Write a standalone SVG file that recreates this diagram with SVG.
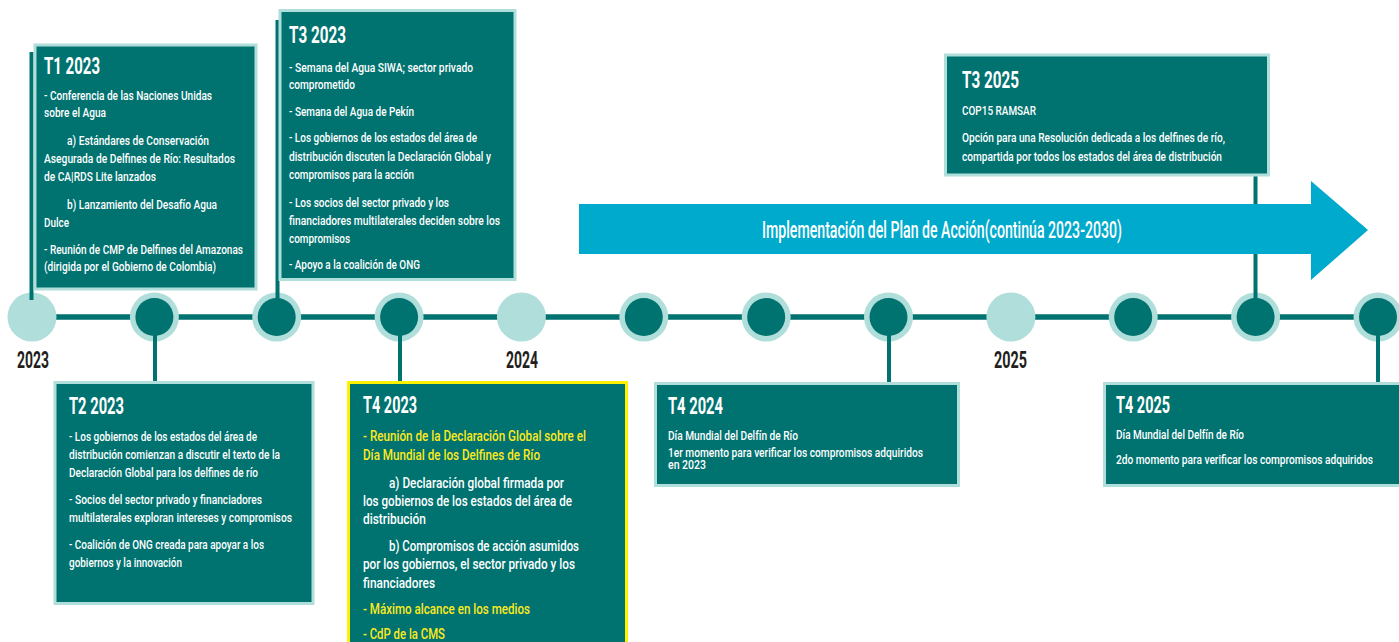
<svg xmlns="http://www.w3.org/2000/svg" width="1399" height="642" viewBox="0 0 1399 642">
<style>
.box{fill:#007270;stroke:#B0DEDA;stroke-width:3}
.boxy{fill:#007270;stroke:#FFF200;stroke-width:3}
.t{font-family:Roboto,"Liberation Sans",sans-serif;fill:#fff}
.ti{font-size:23px;font-weight:700}
.b{font-size:13.5px;font-weight:500}
.b14{font-size:15px;font-weight:500}
.s{font-size:12.5px;font-weight:500}
.y{fill:#FBEA1E}
.yr{font-family:Roboto,"Liberation Sans",sans-serif;font-size:23px;font-weight:700;fill:#231F20}
.ring{fill:#B0DEDA}
.dot{fill:#007270}
.con{stroke:#007270;stroke-width:4;fill:none}
</style>
<rect width="1399" height="642" fill="#fff"/>
<g id="timeline">
<line x1="32" y1="317" x2="1399" y2="317" stroke="#007270" stroke-width="5.5"/>
<circle class="ring" cx="32" cy="317" r="24.5"/>
<circle class="ring" cx="154.4" cy="317" r="24.5"/><circle class="dot" cx="154.4" cy="317" r="19"/>
<circle class="ring" cx="276.7" cy="317" r="24.5"/><circle class="dot" cx="276.7" cy="317" r="19"/>
<circle class="ring" cx="399.1" cy="317" r="24.5"/><circle class="dot" cx="399.1" cy="317" r="19"/>
<circle class="ring" cx="521.4" cy="317" r="24.5"/>
<circle class="ring" cx="643.8" cy="317" r="24.5"/><circle class="dot" cx="643.8" cy="317" r="19"/>
<circle class="ring" cx="766.2" cy="317" r="24.5"/><circle class="dot" cx="766.2" cy="317" r="19"/>
<circle class="ring" cx="888.5" cy="317" r="24.5"/><circle class="dot" cx="888.5" cy="317" r="19"/>
<circle class="ring" cx="1010.9" cy="317" r="24.5"/>
<circle class="ring" cx="1133.2" cy="317" r="24.5"/><circle class="dot" cx="1133.2" cy="317" r="19"/>
<circle class="ring" cx="1255.6" cy="317" r="24.5"/><circle class="dot" cx="1255.6" cy="317" r="19"/>
<circle class="ring" cx="1378" cy="317" r="24.5"/><circle class="dot" cx="1378" cy="317" r="19"/>
<text class="yr" x="17" y="368" textLength="32" lengthAdjust="spacingAndGlyphs">2023</text>
<text class="yr" x="506" y="368" textLength="32" lengthAdjust="spacingAndGlyphs">2024</text>
<text class="yr" x="994" y="368" textLength="33" lengthAdjust="spacingAndGlyphs">2025</text>
</g>
<g id="connectors">
<line class="con" x1="31.5" y1="52" x2="31.5" y2="300"/>
<line class="con" x1="277.5" y1="20" x2="277.5" y2="317"/>
<line class="con" x1="155" y1="317" x2="155" y2="382"/>
<line class="con" x1="400" y1="317" x2="400" y2="382"/>
<line class="con" x1="889" y1="317" x2="889" y2="383"/>
<line class="con" x1="1255.5" y1="176" x2="1255.5" y2="317"/>
<line class="con" x1="1378" y1="317" x2="1378" y2="383"/>
</g>
<g id="t1-2023">
<rect class="box" x="35" y="45" width="221" height="244"/>
<text class="t ti" x="44" y="74" textLength="56" lengthAdjust="spacingAndGlyphs">T1 2023</text>
<g class="t b">
<text x="44" y="100" textLength="168" lengthAdjust="spacingAndGlyphs">- Conferencia de las Naciones Unidas</text>
<text x="44" y="117" textLength="62" lengthAdjust="spacingAndGlyphs">sobre el Agua</text>
<text x="67" y="145" textLength="142" lengthAdjust="spacingAndGlyphs">a) Estándares de Conservación</text>
<text x="44" y="163" textLength="191" lengthAdjust="spacingAndGlyphs">Asegurada de Delfines de Río: Resultados</text>
<text x="44" y="181" textLength="112" lengthAdjust="spacingAndGlyphs">de CA|RDS Lite lanzados</text>
<text x="67" y="209" textLength="150" lengthAdjust="spacingAndGlyphs">b) Lanzamiento del Desafío Agua</text>
<text x="44" y="227" textLength="25" lengthAdjust="spacingAndGlyphs">Dulce</text>
<text x="44" y="254" textLength="199" lengthAdjust="spacingAndGlyphs">- Reunión de CMP de Delfines del Amazonas</text>
<text x="44" y="271" textLength="172" lengthAdjust="spacingAndGlyphs">(dirigida por el Gobierno de Colombia)</text>
</g>
</g>
<g id="t3-2023">
<rect class="box" x="280" y="10.5" width="235" height="269"/>
<text class="t ti" x="289" y="43" textLength="57" lengthAdjust="spacingAndGlyphs">T3 2023</text>
<g class="t b">
<text x="289" y="72" textLength="184" lengthAdjust="spacingAndGlyphs">- Semana del Agua SIWA; sector privado</text>
<text x="289" y="89" textLength="66" lengthAdjust="spacingAndGlyphs">comprometido</text>
<text x="289" y="116" textLength="125" lengthAdjust="spacingAndGlyphs">- Semana del Agua de Pekín</text>
<text x="289" y="142" textLength="188" lengthAdjust="spacingAndGlyphs">- Los gobiernos de los estados del área de</text>
<text x="289" y="161" textLength="202" lengthAdjust="spacingAndGlyphs">distribución discuten la Declaración Global y</text>
<text x="289" y="179" textLength="125" lengthAdjust="spacingAndGlyphs">compromisos para la acción</text>
<text x="289" y="207" textLength="160" lengthAdjust="spacingAndGlyphs">- Los socios del sector privado y los</text>
<text x="289" y="225" textLength="211" lengthAdjust="spacingAndGlyphs">financiadores multilaterales deciden sobre los</text>
<text x="289" y="243" textLength="61" lengthAdjust="spacingAndGlyphs">compromisos</text>
<text x="289" y="269" textLength="131" lengthAdjust="spacingAndGlyphs">- Apoyo a la coalición de ONG</text>
</g>
</g>
<g id="t2-2023">
<rect class="box" x="55" y="382.5" width="258" height="221"/>
<text class="t ti" x="69" y="414" textLength="55" lengthAdjust="spacingAndGlyphs">T2 2023</text>
<g class="t b">
<text x="69" y="441" textLength="188" lengthAdjust="spacingAndGlyphs">- Los gobiernos de los estados del área de</text>
<text x="69" y="459" textLength="211" lengthAdjust="spacingAndGlyphs">distribución comienzan a discutir el texto de la</text>
<text x="69" y="477" textLength="189" lengthAdjust="spacingAndGlyphs">Declaración Global para los delfines de río</text>
<text x="69" y="504" textLength="193" lengthAdjust="spacingAndGlyphs">- Socios del sector privado y financiadores</text>
<text x="69" y="522" textLength="223" lengthAdjust="spacingAndGlyphs">multilaterales exploran intereses y compromisos</text>
<text x="69" y="549" textLength="195" lengthAdjust="spacingAndGlyphs">- Coalición de ONG creada para apoyar a los</text>
<text x="69" y="567" textLength="113" lengthAdjust="spacingAndGlyphs">gobiernos y la innovación</text>
</g>
</g>
<g id="t4-2023">
<rect class="boxy" x="348.5" y="382.5" width="278" height="270"/>
<text class="t ti" x="363" y="413" textLength="54" lengthAdjust="spacingAndGlyphs">T4 2023</text>
<g class="t b14">
<text class="y" x="363" y="441" textLength="223" lengthAdjust="spacingAndGlyphs">- Reunión de la Declaración Global sobre el</text>
<text class="y" x="363" y="460" textLength="177" lengthAdjust="spacingAndGlyphs">Día Mundial de los Delfines de Río</text>
<text x="389" y="488" textLength="175" lengthAdjust="spacingAndGlyphs">a) Declaración global firmada por</text>
<text x="363" y="506" textLength="209" lengthAdjust="spacingAndGlyphs">los gobiernos de los estados del área de</text>
<text x="363" y="524" textLength="63" lengthAdjust="spacingAndGlyphs">distribución</text>
<text x="389" y="551" textLength="190" lengthAdjust="spacingAndGlyphs">b) Compromisos de acción asumidos</text>
<text x="363" y="569" textLength="212" lengthAdjust="spacingAndGlyphs">por los gobiernos, el sector privado y los</text>
<text x="363" y="588" textLength="72" lengthAdjust="spacingAndGlyphs">financiadores</text>
<text class="y" x="363" y="614" textLength="167" lengthAdjust="spacingAndGlyphs">- Máximo alcance en los medios</text>
<text class="y" x="363" y="639" textLength="82" lengthAdjust="spacingAndGlyphs">- CdP de la CMS</text>
</g>
</g>
<g id="t4-2024">
<rect class="box" x="655.5" y="383.5" width="303" height="102"/>
<text class="t ti" x="668" y="414" textLength="55" lengthAdjust="spacingAndGlyphs">T4 2024</text>
<g class="t s">
<text x="668" y="440" textLength="130" lengthAdjust="spacingAndGlyphs">Día Mundial del Delfín de Río</text>
<text x="668" y="457" textLength="255" lengthAdjust="spacingAndGlyphs">1er momento para verificar los compromisos adquiridos</text>
<text x="668" y="469" textLength="38" lengthAdjust="spacingAndGlyphs">en 2023</text>
</g>
</g>
<g id="t3-2025">
<rect class="box" x="945.5" y="55" width="323" height="120"/>
<text class="t ti" x="962" y="88" textLength="57" lengthAdjust="spacingAndGlyphs">T3 2025</text>
<g class="t b">
<text x="962" y="115" textLength="74" lengthAdjust="spacingAndGlyphs">COP15 RAMSAR</text>
<text x="962" y="142" textLength="263" lengthAdjust="spacingAndGlyphs">Opción para una Resolución dedicada a los delfines de río,</text>
<text x="962" y="161" textLength="260" lengthAdjust="spacingAndGlyphs">compartida por todos los estados del área de distribución</text>
</g>
</g>
<g id="t4-2025">
<rect class="box" x="1104.5" y="383.5" width="300" height="102"/>
<text class="t ti" x="1116" y="413" textLength="54" lengthAdjust="spacingAndGlyphs">T4 2025</text>
<g class="t s">
<text x="1116" y="439" textLength="128" lengthAdjust="spacingAndGlyphs">Día Mundial del Delfín de Río</text>
<text x="1116" y="464" textLength="257" lengthAdjust="spacingAndGlyphs">2do momento para verificar los compromisos adquiridos</text>
</g>
</g>
<g id="plan-arrow">
<polygon points="579,204 1311,204 1311,181 1368,230 1311,280 1311,254 579,254" fill="#00AACC"/>
<text class="t" x="762" y="238" font-size="23" font-weight="500" textLength="360" lengthAdjust="spacingAndGlyphs">Implementación del Plan de Acción(continúa 2023-2030)</text>
</g>
</svg>
